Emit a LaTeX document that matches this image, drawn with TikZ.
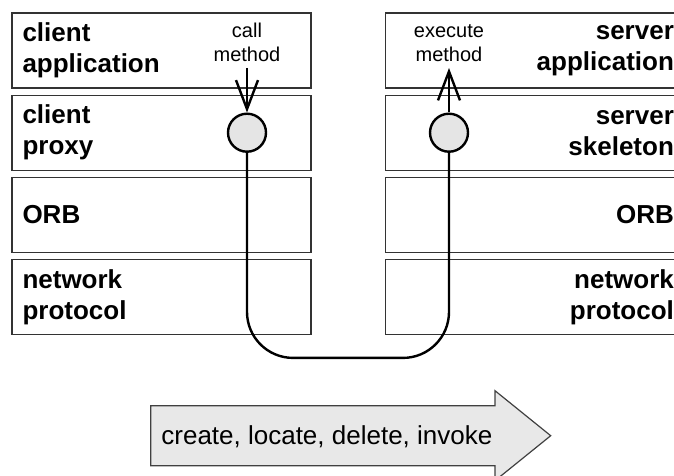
\documentclass[tikz,border=0pt]{standalone}
\usepackage{fontspec}
\setmainfont{Liberation Sans}
\usetikzlibrary{arrows.meta, positioning}

\begin{document}
\begin{tikzpicture}[x=0.5pt, y=-0.5pt, node distance=3pt,
    layer/.style={draw=black!80, line width=0.6pt, minimum height=37.5pt, text width=139pt,
        inner xsep=5.25pt, inner ysep=0pt, font=\bfseries\fontsize{13}{15.5}\selectfont},
    clientlayer/.style={layer, align=left},
    serverlayer/.style={layer, align=right},
    stub/.style={circle, draw, line width=1.2pt, fill=black!10, minimum size=19pt, inner sep=0pt},
    calllabel/.style={font=\fontsize{10}{12}\selectfont, align=center, anchor=south, inner sep=0pt},
    flow/.style={line width=1.2pt, -{Straight Barb[length=14.5pt, width=11pt, line width=1.2pt]}},
    opsarrow/.style={fill=black!9, draw=black!75, line width=0.6pt}]
    \useasboundingbox (0,0) rectangle (674,476);
    \clip (0,0) rectangle (674,476);

    \node (capp) [clientlayer] at (161.5,50.5) {client\\application};
    \node (cproxy) [clientlayer, below=of capp] {client\\proxy};
    \node (corb) [clientlayer, below=of cproxy] {ORB};
    \node (cnet) [clientlayer, below=of corb] {network\\protocol};

    \node (sapp) [serverlayer, right=36.6pt of capp] {server\\application};
    \node (sskel) [serverlayer, below=of sapp] {server\\skeleton};
    \node (sorb) [serverlayer, below=of sskel] {ORB};
    \node (snet) [serverlayer, below=of sorb] {network\\protocol};

    \node (cstub) [stub] at (247,132.7) {};
    \node (sstub) [stub] at (449,132.7) {};
    \coordinate (callin) at (247,68);
    \coordinate (execout) at (449,68);

    \node (calllbl) [calllabel] at ([yshift=3pt]callin) {call\\method};
    \node (execlbl) [calllabel] at ([yshift=3pt]execout) {execute\\method};

    \draw[flow] (callin) -- (cstub.north);
    \draw[flow] (sstub.north) -- (execout);
    \draw[line width=1.2pt, rounded corners=23pt] (cstub.south) -- ++(0,205) -| (sstub.south);

    \filldraw[opsarrow] (150.7,405.7) -- (495,405.7) -- (495,390.7) -- (550.7,435.7)
        -- (495,480.7) -- (495,465.7) -- (150.7,465.7) -- cycle;
    \node (ops) [anchor=base west, inner sep=0pt, font=\fontsize{13}{15}\selectfont] at (161,444)
        {create, locate, delete, invoke};
\end{tikzpicture}
\end{document}
